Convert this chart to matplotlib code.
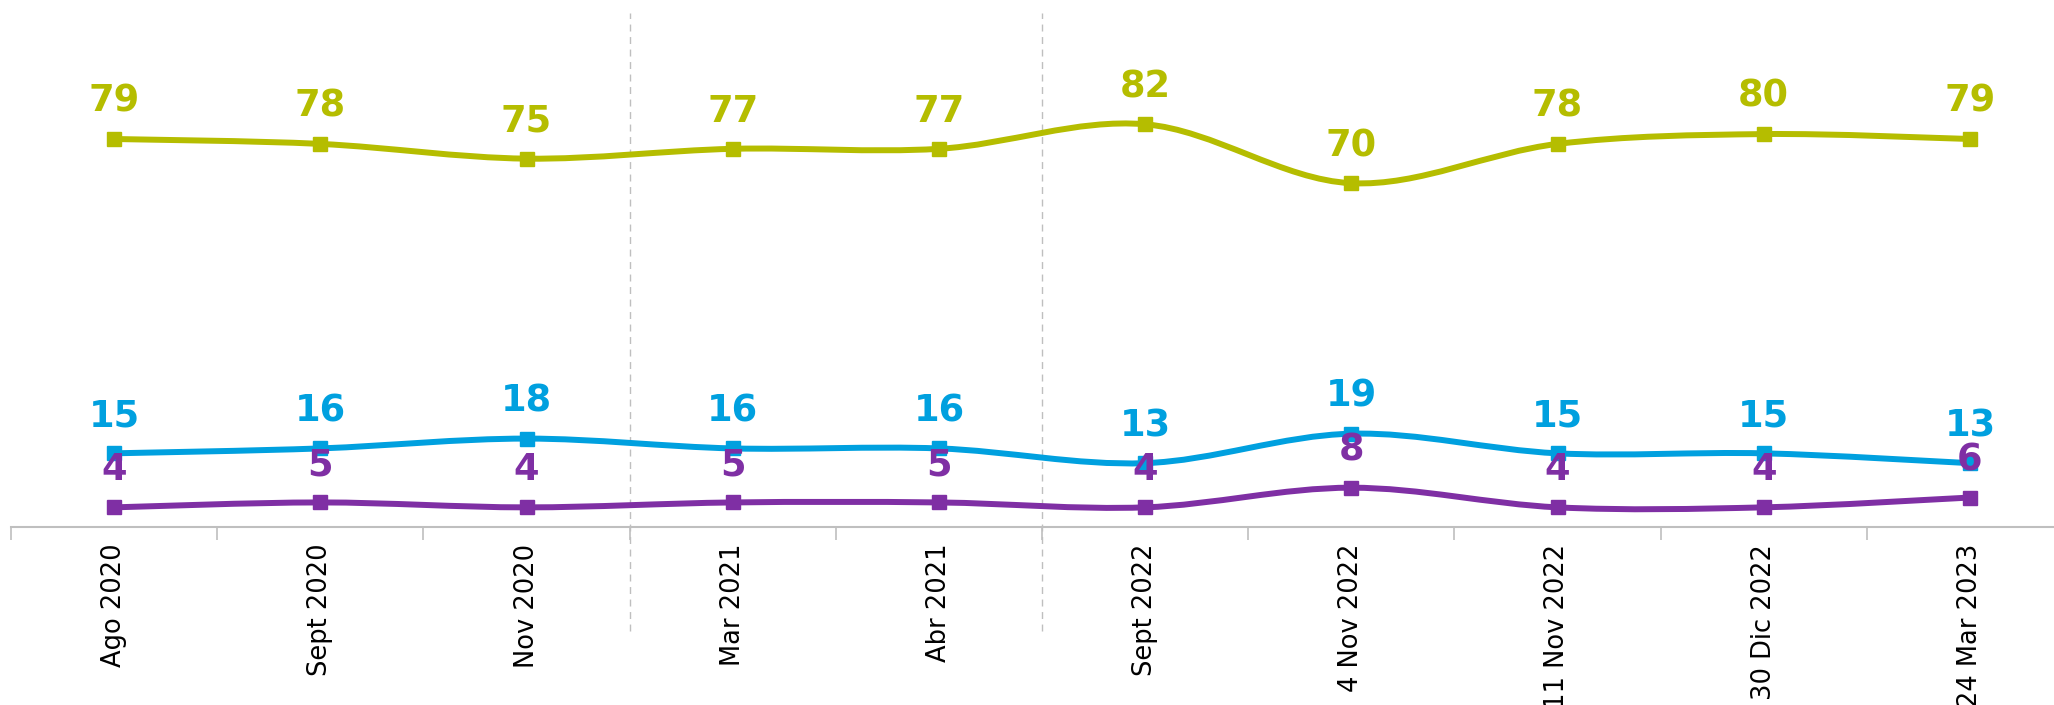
import numpy as np
import matplotlib
matplotlib.use("Agg")
import matplotlib.pyplot as plt
from matplotlib.path import Path
from matplotlib.patches import PathPatch

fechas = ["Ago 2020", "Sept 2020", "Nov 2020", "Mar 2021", "Abr 2021",
          "Sept 2022", "4 Nov 2022", "11 Nov 2022", "30 Dic 2022", "24 Mar 2023"]
verde = [79, 78, 75, 77, 77, 82, 70, 78, 80, 79]
azul = [15, 16, 18, 16, 16, 13, 19, 15, 15, 13]
morado = [4, 5, 4, 5, 5, 4, 8, 4, 4, 6]
cortes = [2.5, 4.5]  # separadores punteados

colores = {"verde": "#B5BD00", "azul": "#00A0DF", "morado": "#7F2FA4"}
gris = "#BFBFBF"


def curva_suave(xs, ys):
    # bezier tipo catmull-rom (como el "suavizado" de excel)
    pts = np.column_stack([xs, ys]).astype(float)
    n = len(pts)
    verts = [pts[0]]
    codes = [Path.MOVETO]
    for i in range(n - 1):
        p0 = pts[i - 1] if i > 0 else pts[i]
        p1 = pts[i]
        p2 = pts[i + 1]
        p3 = pts[i + 2] if i + 2 < n else pts[i + 1]
        verts += [p1 + (p2 - p0) / 6, p2 - (p3 - p1) / 6, p2]
        codes += [Path.CURVE4] * 3
    return Path(verts, codes)


fig = plt.figure(figsize=(20.54, 7.05), dpi=100)
ax = fig.add_axes([11 / 2054, 178 / 705, 2062 / 2054, 527 / 705])
x = np.arange(len(fechas))

for serie, col in [(morado, colores["morado"]), (azul, colores["azul"]), (verde, colores["verde"])]:
    ax.add_patch(PathPatch(curva_suave(x, serie), facecolor="none", edgecolor=col,
                           lw=4.3, capstyle="round", zorder=3))
    ax.plot(x, serie, "s", color=col, ms=10, zorder=4)

for serie, col in [(verde, colores["verde"]), (azul, colores["azul"]), (morado, colores["morado"])]:
    for xi, v in zip(x, serie):
        ax.annotate(str(v), (xi, v), xytext=(0, 19.5), textcoords="offset points",
                    ha="center", va="baseline", color=col, fontsize=26.5,
                    fontweight="bold", zorder=6)

for c in cortes:
    ax.plot([c, c], [-21.2, 104.6], ls=(0, (5, 4)), color=gris, lw=1, clip_on=False, zorder=1)

ax.set_xlim(-0.5, len(fechas) - 0.5)
ax.set_ylim(0, 107.3)
ax.set_xticks(x)
ax.set_xticklabels(fechas, rotation=90, fontsize=18.5, va="top", ha="center")
ax.set_xticks(np.arange(-0.5, len(fechas)), minor=True)
ax.tick_params(axis="x", which="major", length=0, pad=12, colors="#000000")
ax.tick_params(axis="x", which="minor", length=9.5, width=1.2, color=gris, direction="out")
ax.set_yticks([])
for s in ["top", "left", "right"]:
    ax.spines[s].set_visible(False)
ax.spines["bottom"].set_color(gris)
ax.spines["bottom"].set_linewidth(1.5)

fig.savefig("out.png", dpi=100)
